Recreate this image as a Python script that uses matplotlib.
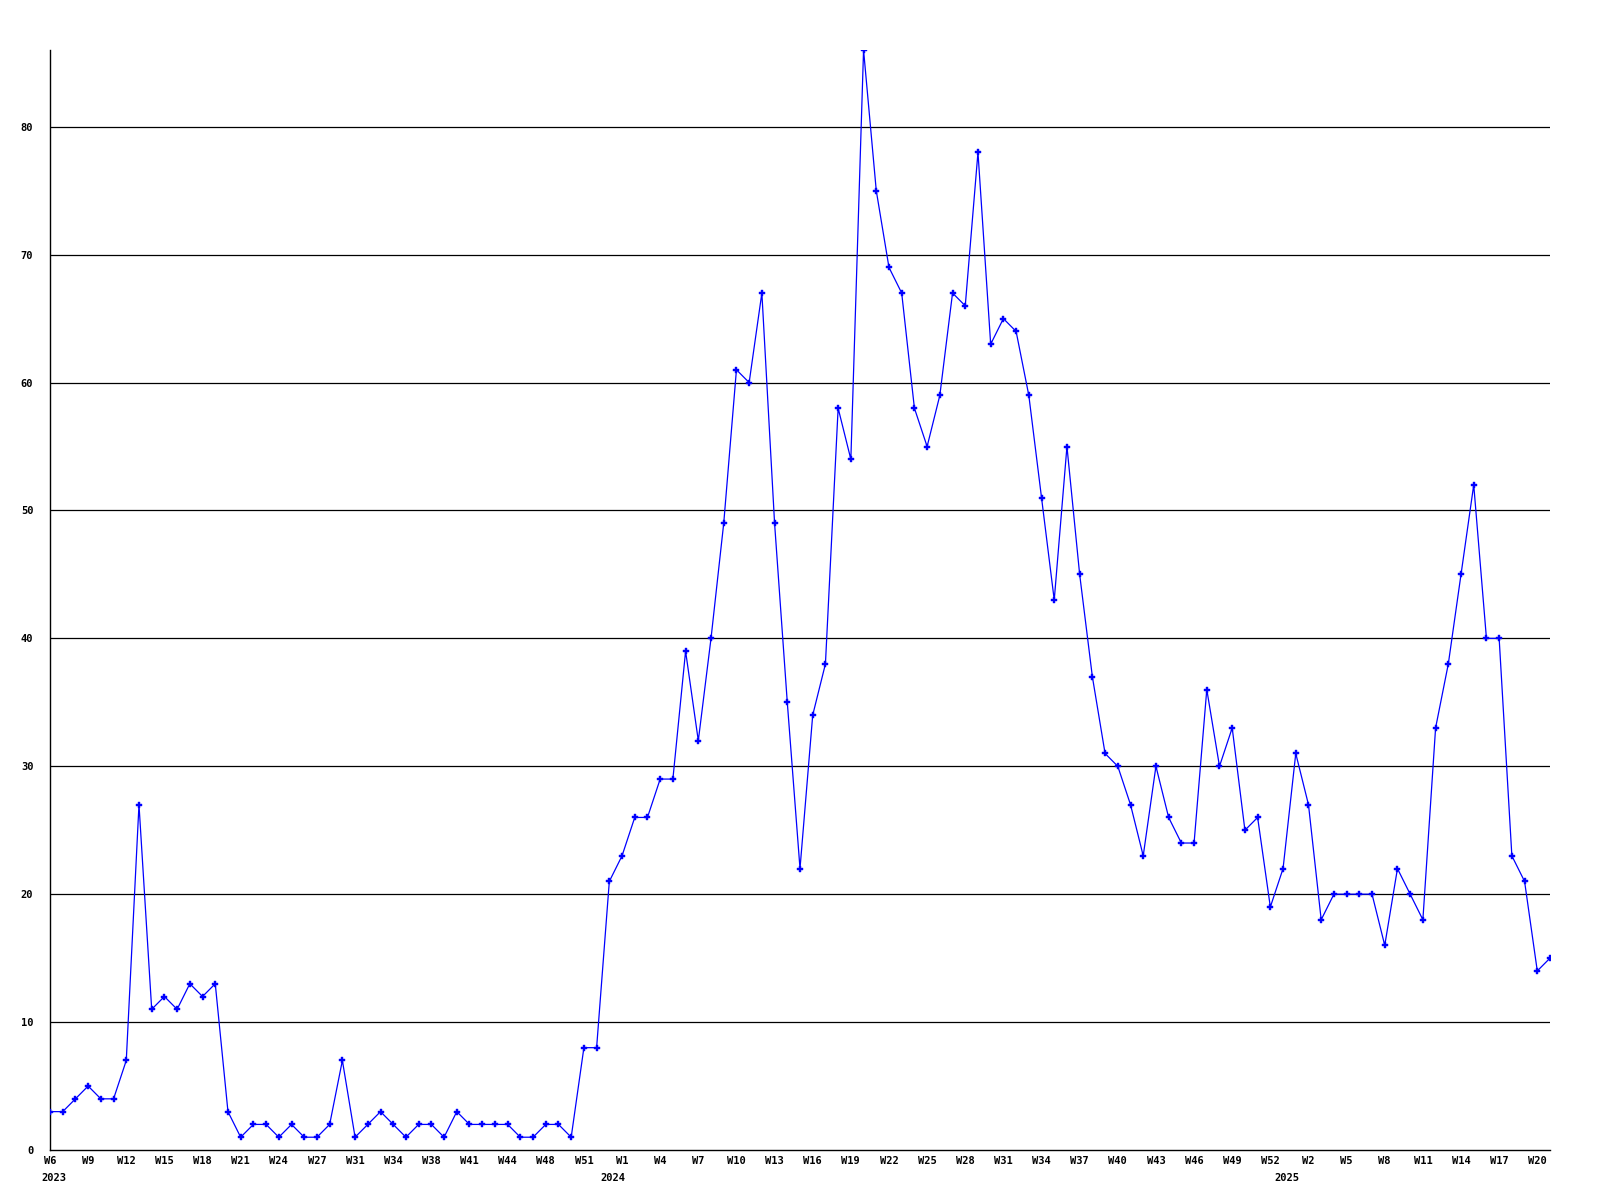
import numpy as np
import matplotlib
matplotlib.use('Agg')
import matplotlib.pyplot as plt
import matplotlib.transforms as mtransforms

# weekly counts, W6 2023 .. W21 2025
values = [3, 3, 4, 5, 4, 4, 7, 27, 11, 12,
          11, 13, 12, 13, 3, 1, 2, 2, 1, 2,
          1, 1, 2, 7, 1, 2, 3, 2, 1, 2,
          2, 1, 3, 2, 2, 2, 2, 1, 1, 2,
          2, 1, 8, 8, 21, 23, 26, 26, 29, 29,
          39, 32, 40, 49, 61, 60, 67, 49, 35, 22,
          34, 38, 58, 54, 86, 75, 69, 67, 58, 55,
          59, 67, 66, 78, 63, 65, 64, 59, 51, 43,
          55, 45, 37, 31, 30, 27, 23, 30, 26, 24,
          24, 36, 30, 33, 25, 26, 19, 22, 31, 27,
          18, 20, 20, 20, 20, 16, 22, 20, 18, 33,
          38, 45, 52, 40, 40, 23, 21, 14, 15]

week_labels = ['W6', 'W9', 'W12', 'W15', 'W18', 'W21', 'W24', 'W27', 'W31', 'W34',
               'W38', 'W41', 'W44', 'W48', 'W51',
               'W1', 'W4', 'W7', 'W10', 'W13', 'W16', 'W19', 'W22', 'W25', 'W28',
               'W31', 'W34', 'W37', 'W40', 'W43', 'W46', 'W49', 'W52',
               'W2', 'W5', 'W8', 'W11', 'W14', 'W17', 'W20']
years = ['2023', '2024', '2025']
year_pos = [0.3, 44.3, 97.3]

y_ticks = [0, 10, 20, 30, 40, 50, 60, 70, 80]

font = dict(family='DejaVu Sans Mono', weight='bold', size=7.5)

fig = plt.figure(figsize=(16, 12), dpi=100)
ax = fig.add_axes([50 / 1600, 50 / 1200, 1500 / 1600, 1100 / 1200])

x = np.arange(len(values))
ax.plot(x, values, color='#0000ff', lw=0.9, marker='P', ms=4,
        mec='#0000ff', mfc='#0000ff', mew=0.3, zorder=3)

ax.set_xlim(0, len(values) - 1)
ax.set_ylim(0, 86)

for v in y_ticks[1:]:
    ax.axhline(v, color='black', lw=0.9, zorder=1)

ax.set_yticks(y_ticks)
ax.set_yticklabels([str(v) for v in y_ticks], **font)
ax.set_xticks(np.arange(len(week_labels)) * 3)
ax.set_xticklabels(week_labels, **font)
ax.tick_params(length=0)
ax.tick_params(axis='y', pad=12)
ax.tick_params(axis='x', pad=4)

for s in ['top', 'right']:
    ax.spines[s].set_visible(False)
for s in ['left', 'bottom']:
    ax.spines[s].set_linewidth(1.0)

trans = mtransforms.blended_transform_factory(ax.transData, ax.transAxes)
for yr, p in zip(years, year_pos):
    ax.text(p, -0.021, yr, transform=trans, ha='center', va='top', **font)

fig.savefig('out.png', dpi=100)
